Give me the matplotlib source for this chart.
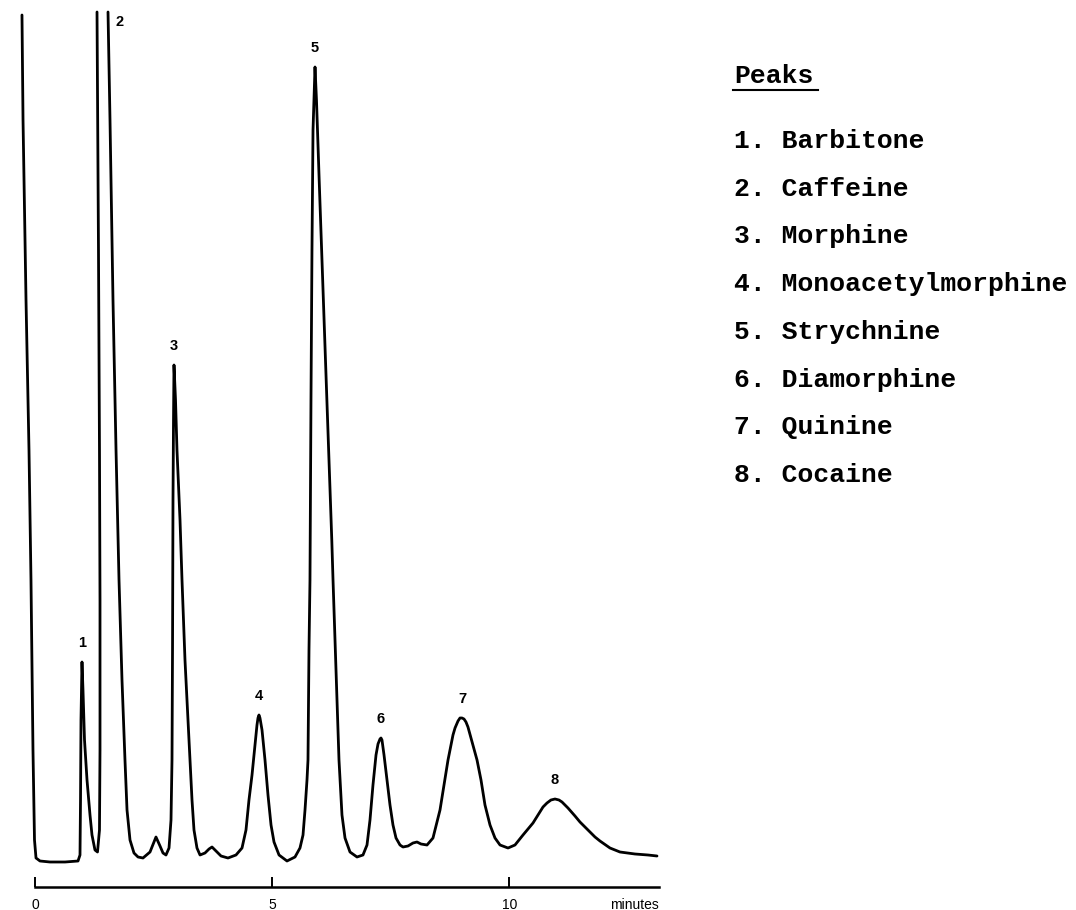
import numpy as np
import matplotlib.pyplot as plt
from matplotlib.lines import Line2D

# recorder trace: retention time (min) and detector response
# (arbitrary units above baseline). NaN = pen off the top of the paper (peak 2)
time_min = [-0.281, -0.259, -0.196, -0.133, -0.091, -0.049, -0.017, 0.015, 0.099, 0.310,
            0.627, 0.901, 0.943, 0.954, 0.964, 0.985, 1.006, 1.038, 1.091, 1.154,
            1.196, 1.259, 1.312, 1.354, 1.365, 1.365, 1.354, 1.333, 1.312, 1.302,
            np.nan,
            1.534, 1.576, 1.639, 1.703, 1.766, 1.829, 1.892, 1.935, 1.998, 2.082,
            2.167, 2.272, 2.420, 2.546, 2.631, 2.694, 2.757, 2.821, 2.863, 2.884,
            2.895, 2.905, 2.916, 2.926, 2.958, 2.989, 3.053, 3.095, 3.158, 3.222,
            3.264, 3.306, 3.348, 3.411, 3.475, 3.580, 3.665, 3.728, 3.812, 3.918,
            4.065, 4.234, 4.361, 4.445, 4.508, 4.572, 4.635, 4.677, 4.698, 4.719,
            4.740, 4.783,
            4.846, 4.909, 4.973, 5.036, 5.142, 5.310, 5.479, 5.584, 5.648, 5.690,
            5.732, 5.753, 5.774, 5.795, 5.816, 5.837, 5.859, 5.901, 5.932, 5.989,
            6.063, 6.152, 6.211, 6.255, 6.281, 6.350, 6.407, 6.470, 6.534, 6.639,
            6.787, 6.913, 6.998, 7.061, 7.124, 7.188, 7.230, 7.272, 7.293, 7.314,
            7.357, 7.420,
            7.483, 7.546, 7.610, 7.694, 7.757, 7.863, 7.968, 8.053, 8.137, 8.264,
            8.390, 8.538, 8.707, 8.812, 8.855, 8.918, 8.960, 9.002, 9.044, 9.086,
            9.128, 9.192, 9.319, 9.403,
            9.487, 9.593, 9.698, 9.804, 9.973, 10.120, 10.289, 10.500, 10.605, 10.711,
            10.795, 10.879, 10.964, 11.048, 11.112, 11.175, 11.238, 11.386, 11.491, 11.660,
            11.808, 11.913, 12.124, 12.335, 12.652, 12.926, 13.116]
response = [847, 742, 562, 412, 282, 112, 22, 4, 1, 0,
            0, 1, 7, 62, 142, 200, 172, 122, 82, 47,
            27, 12, 10, 32, 112, 262, 412, 612, 762, 850,
            np.nan,
            850, 742, 562, 412, 282, 182, 102, 52, 22, 9,
            5, 4, 10, 25, 16, 9, 7, 14, 42, 102,
            212, 362, 442, 497, 462, 412, 342, 282, 202, 142,
            102, 62, 32, 14, 7, 9, 13, 15, 11, 6,
            4, 7, 14, 32, 62, 87, 117, 137, 144, 147,
            144, 132,
            102, 67, 37, 20, 7, 1, 5, 14, 27, 52,
            82, 102, 212, 282, 462, 612, 732, 795, 762, 682,
            582, 462, 382, 322, 282, 182, 102, 47, 24, 10,
            5, 7, 17, 42, 77, 107, 118, 123, 124, 122,
            107, 82,
            57, 37, 24, 17, 15, 16, 19, 20, 18, 17,
            24, 52, 102, 127, 134, 141, 144, 144, 143, 140,
            135, 124, 102, 82,
            57, 37, 24, 17, 14, 17, 27, 39, 47, 55,
            59, 62, 63, 62, 60, 57, 54, 46, 40, 32,
            25, 21, 14, 10, 8, 7, 6]

peak_labels = ['1', '2', '3', '4', '5', '6', '7', '8']
peak_times = [0.985, 1.45, 2.926, 4.719, 5.901, 7.293, 9.002, 10.964]
peak_heights = [200, None, 497, 147, 795, 124, 144, 63]  # peak 2 off scale
full_scale = 850

peak_names = ['Barbitone', 'Caffeine', 'Morphine', 'Monoacetylmorphine',
              'Strychnine', 'Diamorphine', 'Quinine', 'Cocaine']

tick_minutes = [0, 5, 10]
run_end = 13.16

W, H = 1076, 910
fig = plt.figure(figsize=(W / 100, H / 100), dpi=100)
ax = fig.add_axes([11.6 / W, 0, 663.6 / W, 1])
ax.set_xlim(-0.5, 13.5)
ax.set_ylim(-48, 862)

ax.plot(time_min, response, color='black', lw=2.0, solid_joinstyle='round',
        solid_capstyle='round')

sans = 'Liberation Sans'
for lab, t, h in zip(peak_labels, peak_times, peak_heights):
    if h is None:
        ax.annotate(lab, xy=(t, full_scale), xytext=(11, -7), textcoords='offset points',
                    ha='center', va='center', fontsize=10.5, family=sans, weight='bold')
    else:
        ax.annotate(lab, xy=(t, h), xytext=(0, 14), textcoords='offset points',
                    ha='center', va='center', fontsize=10.5, family=sans, weight='bold')

# time ruler under the trace
for side in ['top', 'right', 'left']:
    ax.spines[side].set_visible(False)
ax.spines['bottom'].set_position(('data', -25))
ax.spines['bottom'].set_bounds(0, run_end)
ax.spines['bottom'].set_linewidth(1.8)
ax.set_yticks([])
ax.set_xticks(tick_minutes)
ax.set_xticklabels([str(m) for m in tick_minutes], family=sans, fontsize=10)
ax.tick_params(axis='x', direction='in', length=7, width=1.4, pad=8)
ax.annotate('minutes', xy=(run_end, -25), xytext=(0, -8), textcoords='offset points',
            ha='right', va='top', fontsize=10, family=sans)

# key to the peaks
mono = 'Liberation Mono'
fig.text(734 / W, 1 - 83 / H, 'Peaks', family=mono, fontsize=19, va='baseline',
         weight='bold')
fig.add_artist(Line2D([733 / W, 818 / W], [1 - 90 / H, 1 - 90 / H],
                      transform=fig.transFigure, color='black', lw=1.5))
for i, name in enumerate(peak_names):
    fig.text(734 / W, 1 - (148 + i * 47.7) / H, f'{i + 1}. {name}',
             family=mono, fontsize=19, va='baseline', weight='bold')

fig.savefig('out.png', dpi=100)
